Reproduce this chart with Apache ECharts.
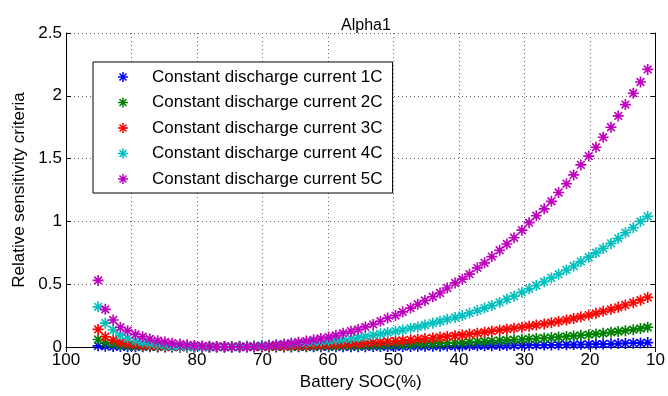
<!DOCTYPE html>
<html>
<head>
<meta charset="utf-8">
<script src="https://cdn.jsdelivr.net/npm/echarts@6/dist/echarts.min.js"></script>
<style>
  html, body { margin: 0; padding: 0; background: #fff; }
  #chart { width: 668px; height: 396px; }
</style>
</head>
<body>
<div id="chart"></div>
<script>
// battery state of charge (%) at each sample
const soc = [
  95.1, 94.0, 92.8, 91.7, 90.6, 89.4, 88.3, 87.2, 86.0, 84.9,
  83.8, 82.6, 81.5, 80.4, 79.2, 78.1, 77.0, 75.8, 74.7, 73.5,
  72.4, 71.3, 70.1, 69.0, 67.9, 66.7, 65.6, 64.5, 63.3, 62.2,
  61.1, 59.9, 58.8, 57.7, 56.5, 55.4, 54.3, 53.1, 52.0, 50.9,
  49.7, 48.6, 47.4, 46.3, 45.2, 44.0, 42.9, 41.8, 40.6, 39.5,
  38.4, 37.2, 36.1, 35.0, 33.8, 32.7, 31.6, 30.4, 29.3, 28.2,
  27.0, 25.9, 24.8, 23.6, 22.5, 21.4, 20.2, 19.1, 18.0, 16.8,
  15.7, 14.6, 13.4, 12.3, 11.2
];

const current1C = [
  0.009, 0.006, 0.004, 0.003, 0.002, 0.0015, 0.001, 0.001, 0.0005, 0.0005,
  0.0003, 0.0003, 0.0003, 0.0003, 0.0003, 0.0003, 0.0003, 0.0003, 0.0003, 0.0003,
  0.0003, 0.0004, 0.0005, 0.0005, 0.0006, 0.0007, 0.0008, 0.001, 0.0011, 0.0013,
  0.0015, 0.0016, 0.0018, 0.002, 0.0022, 0.0025, 0.0027, 0.003, 0.0034, 0.0037,
  0.004, 0.0044, 0.0048, 0.0052, 0.0056, 0.006, 0.0066, 0.0072, 0.0078, 0.0084,
  0.009, 0.0096, 0.0102, 0.0108, 0.0114, 0.012, 0.0128, 0.0136, 0.0144, 0.0152,
  0.016, 0.0168, 0.0176, 0.0184, 0.0192, 0.02, 0.0212, 0.0224, 0.0238, 0.0253,
  0.027, 0.0288, 0.0307, 0.0327, 0.035
];

const current2C = [
  0.06, 0.035, 0.024, 0.016, 0.011, 0.008, 0.005, 0.004, 0.003, 0.002,
  0.001, 0.001, 0.001, 0.001, 0.001, 0.001, 0.001, 0.001, 0.001, 0.001,
  0.001, 0.0015, 0.002, 0.002, 0.003, 0.003, 0.004, 0.005, 0.005, 0.006,
  0.007, 0.007, 0.008, 0.009, 0.01, 0.011, 0.012, 0.014, 0.016, 0.017,
  0.019, 0.02, 0.022, 0.024, 0.026, 0.028, 0.03, 0.033, 0.035, 0.037,
  0.04, 0.043, 0.046, 0.049, 0.052, 0.055, 0.058, 0.061, 0.065, 0.068,
  0.072, 0.076, 0.08, 0.084, 0.088, 0.093, 0.098, 0.104, 0.109, 0.117,
  0.123, 0.13, 0.138, 0.147, 0.157
];

const current3C = [
  0.14, 0.082, 0.056, 0.04, 0.028, 0.02, 0.014, 0.01, 0.007, 0.005,
  0.003, 0.002, 0.001, 0.001, 0.0008, 0.0008, 0.001, 0.0015, 0.002, 0.0025,
  0.003, 0.0035, 0.0045, 0.006, 0.007, 0.008, 0.01, 0.012, 0.013, 0.015,
  0.017, 0.019, 0.021, 0.023, 0.026, 0.029, 0.032, 0.036, 0.04, 0.044,
  0.048, 0.052, 0.057, 0.062, 0.067, 0.072, 0.078, 0.084, 0.09, 0.096,
  0.103, 0.11, 0.118, 0.126, 0.134, 0.142, 0.15, 0.158, 0.166, 0.175,
  0.184, 0.194, 0.204, 0.215, 0.227, 0.24, 0.254, 0.268, 0.284, 0.3,
  0.316, 0.334, 0.353, 0.373, 0.395
];

const current4C = [
  0.32, 0.19, 0.135, 0.095, 0.07, 0.05, 0.037, 0.027, 0.019, 0.013,
  0.008, 0.005, 0.003, 0.002, 0.001, 0.001, 0.001, 0.002, 0.003, 0.005,
  0.007, 0.009, 0.012, 0.015, 0.018, 0.022, 0.026, 0.031, 0.035, 0.04,
  0.045, 0.05, 0.055, 0.061, 0.068, 0.076, 0.085, 0.095, 0.105, 0.115,
  0.125, 0.135, 0.15, 0.16, 0.175, 0.19, 0.205, 0.22, 0.235, 0.25,
  0.27, 0.29, 0.31, 0.33, 0.355, 0.38, 0.405, 0.435, 0.463, 0.49,
  0.52, 0.55, 0.58, 0.613, 0.645, 0.68, 0.715, 0.75, 0.785, 0.825,
  0.865, 0.91, 0.95, 1.0, 1.04
];

const current5C = [
  0.53, 0.30, 0.215, 0.157, 0.13, 0.10, 0.082, 0.064, 0.05, 0.04,
  0.03, 0.023, 0.017, 0.012, 0.008, 0.005, 0.003, 0.002, 0.001, 0.001,
  0.002, 0.004, 0.007, 0.011, 0.016, 0.022, 0.03, 0.038, 0.047, 0.057,
  0.068, 0.08, 0.093, 0.11, 0.125, 0.14, 0.16, 0.18, 0.205, 0.23,
  0.25, 0.28, 0.31, 0.34, 0.37, 0.40, 0.43, 0.47, 0.51, 0.54,
  0.58, 0.63, 0.67, 0.72, 0.77, 0.82, 0.87, 0.93, 0.99, 1.045,
  1.10, 1.16, 1.23, 1.30, 1.37, 1.45, 1.52, 1.59, 1.67, 1.75,
  1.84, 1.93, 2.02, 2.11, 2.21
];

const seriesNames = [
  'Constant discharge current 1C',
  'Constant discharge current 2C',
  'Constant discharge current 3C',
  'Constant discharge current 4C',
  'Constant discharge current 5C'
];
const seriesValues = [current1C, current2C, current3C, current4C, current5C];
const seriesColors = ['#0000ff', '#008000', '#ff0000', '#00bfbf', '#bf00bf'];

// matlab style '*' marker, four thin bars
const asterisk = 'path://M8.5 0h3v20h-3z M0 8.5h20v3h-20z ' +
  'M4.06 1.94L18.06 15.94L15.94 18.06L1.94 4.06z M15.94 1.94L18.06 4.06L4.06 18.06L1.94 15.94z';

const font = "'Liberation Sans', Arial, sans-serif";

const chart = echarts.init(document.getElementById('chart'), null, { renderer: 'canvas' });

const boxAxis = {
  axisLine: { show: true, lineStyle: { color: '#000', width: 1 } },
  axisTick: { show: true, inside: true, length: 5, lineStyle: { color: '#000' } },
  axisLabel: { show: false },
  splitLine: { show: false }
};

const option = {
  backgroundColor: '#fff',
  animation: false,
  title: {
    text: 'Alpha1',
    left: 361,
    top: 13,
    textAlign: 'center',
    textStyle: { fontFamily: font, fontSize: 16, fontWeight: 'normal', color: '#000' }
  },
  grid: { left: 66, right: 11, top: 33, bottom: 49, containLabel: false },
  legend: {
    orient: 'vertical',
    left: 93,
    top: 62,
    padding: [6, 10, 5, 25],
    itemGap: 7.5,
    itemWidth: 10,
    itemHeight: 10,
    backgroundColor: '#fff',
    borderColor: '#000',
    borderWidth: 1,
    borderRadius: 0,
    textStyle: { fontFamily: font, fontSize: 17, color: '#000', lineHeight: 18, padding: [0, 0, 0, 19] },
    data: seriesNames
  },
  xAxis: [
    {
      type: 'value',
      min: 10,
      max: 100,
      interval: 10,
      inverse: true,
      position: 'bottom',
      name: 'Battery SOC(%)',
      nameLocation: 'middle',
      nameGap: 27,
      nameTextStyle: { fontFamily: font, fontSize: 17, color: '#000' },
      axisLine: { show: true, lineStyle: { color: '#000', width: 1 } },
      axisTick: { show: true, inside: true, length: 5, lineStyle: { color: '#000' } },
      axisLabel: { fontFamily: font, fontSize: 17, color: '#000', margin: 5 },
      splitLine: { show: true, lineStyle: { type: [1, 3], color: '#666' } }
    },
    Object.assign({ type: 'value', min: 10, max: 100, interval: 10, inverse: true, position: 'top' }, boxAxis)
  ],
  yAxis: [
    {
      type: 'value',
      min: 0,
      max: 2.5,
      interval: 0.5,
      position: 'left',
      name: 'Relative sensitivity criteria',
      nameLocation: 'middle',
      nameGap: 38,
      nameTextStyle: { fontFamily: font, fontSize: 17, color: '#000' },
      axisLine: { show: true, lineStyle: { color: '#000', width: 1 } },
      axisTick: { show: true, inside: true, length: 5, lineStyle: { color: '#000' } },
      axisLabel: { fontFamily: font, fontSize: 17, color: '#000', margin: 4 },
      splitLine: { show: true, lineStyle: { type: [1, 3], color: '#666' } }
    },
    Object.assign({ type: 'value', min: 0, max: 2.5, interval: 0.5, position: 'right' }, boxAxis)
  ],
  series: seriesNames.map((name, i) => ({
    name: name,
    type: 'scatter',
    xAxisIndex: 0,
    yAxisIndex: 0,
    symbol: asterisk,
    symbolSize: 11,
    itemStyle: { color: seriesColors[i], opacity: 1 },
    data: soc.map((s, j) => [s, seriesValues[i][j]])
  }))
};

chart.setOption(option);
</script>
</body>
</html>
